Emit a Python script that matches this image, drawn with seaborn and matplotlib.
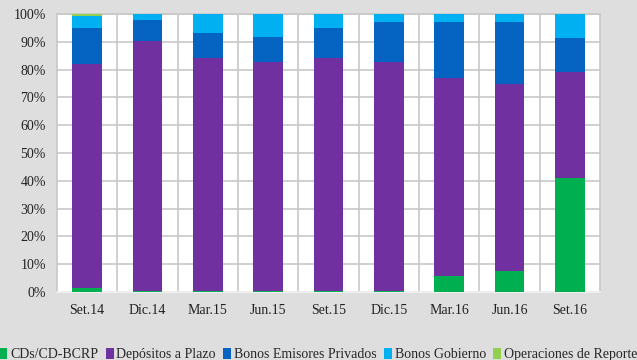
import numpy as np
import pandas as pd
import matplotlib
matplotlib.use("Agg")
import matplotlib.pyplot as plt
import seaborn as sns
from matplotlib.patches import Patch

categories = ["Set.14", "Dic.14", "Mar.15", "Jun.15", "Set.15", "Dic.15", "Mar.16", "Jun.16", "Set.16"]
cds = [1.5, 0.3, 0.3, 0.3, 0.3, 0.3, 5.8, 7.6, 41.0]
depositos = [80.7, 89.9, 83.8, 82.6, 84.0, 82.6, 71.3, 67.3, 38.3]
bonos_priv = [12.9, 7.6, 9.2, 8.8, 10.8, 14.4, 20.2, 22.4, 12.0]
bonos_gob = [4.3, 2.2, 6.7, 8.3, 4.9, 2.7, 2.7, 2.7, 8.7]
op_reporte = [0.6, 0.0, 0.0, 0.0, 0.0, 0.0, 0.0, 0.0, 0.0]

series_names = ["CDs/CD-BCRP", "Depósitos a Plazo", "Bonos Emisores Privados", "Bonos Gobierno", "Operaciones de Reporte"]
series_vals = [cds, depositos, bonos_priv, bonos_gob, op_reporte]
colors = ["#00B050", "#7030A0", "#0563C1", "#00B0F0", "#92D050"]

sns.set_theme(style="white")
plt.rcParams['font.family'] = ['Liberation Serif', 'DejaVu Serif']

fig = plt.figure(figsize=(6.37, 3.60), dpi=100, facecolor="#DEDEDE")
ax = fig.add_axes([0.0895, 0.189, 0.8525, 0.772])
ax.set_facecolor("white")

cum = np.cumsum(np.array(series_vals), axis=0)
for i in range(len(series_names) - 1, -1, -1):
    df = pd.DataFrame({"cat": categories, "val": cum[i]})
    sns.barplot(data=df, x="cat", y="val", order=categories, color=colors[i],
                width=0.49, ax=ax, saturation=1, zorder=3, linewidth=0)

ax.set_xlim(-0.5, len(categories) - 0.5)
ax.set_ylim(0, 100)
ax.set_yticks(np.arange(0, 101, 10))
ax.set_yticklabels([f"{v}%" for v in range(0, 101, 10)])
ax.set_xticks(np.arange(len(categories)))
ax.set_xticks(np.arange(len(categories) - 1) + 0.5, minor=True)
ax.grid(axis="y", which="major", color="#C8C8C8", linewidth=1.2, zorder=0)
ax.grid(axis="x", which="minor", color="#C8C8C8", linewidth=1.2, zorder=0)
ax.grid(axis="x", which="major", visible=False)
ax.set_axisbelow(True)
ax.set_xlabel("")
ax.set_ylabel("")
ax.tick_params(axis="both", which="both", length=0, labelsize=10, colors="#222222")
ax.tick_params(axis="x", pad=9)
ax.tick_params(axis="y", pad=8)
for s in ax.spines.values():
    s.set_color("#C8C8C8")
    s.set_linewidth(1.2)
ax.spines["bottom"].set_color("#F4F4F4")

handles = [Patch(facecolor=c, edgecolor="none") for c in colors]
fig.legend(handles, series_names, loc="lower center", bbox_to_anchor=(0.5, -0.03), ncol=5,
           frameon=False, fontsize=10, handlelength=0.55, handleheight=0.8,
           handletextpad=0.2, columnspacing=0.55, borderaxespad=0.3)

fig.savefig("out.png", dpi=100, facecolor=fig.get_facecolor())
